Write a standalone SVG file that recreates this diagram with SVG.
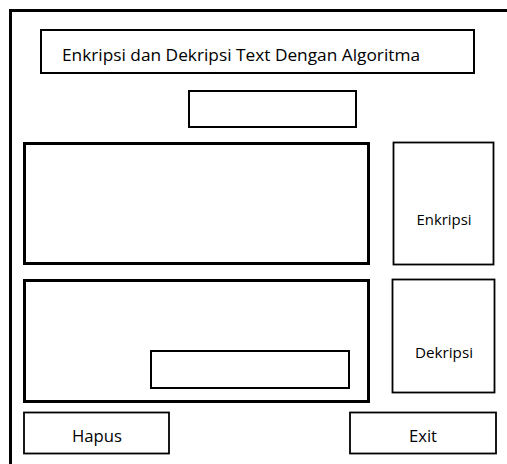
<svg xmlns="http://www.w3.org/2000/svg" width="507" height="464" viewBox="0 0 507 464">
  <style>
    .frame { fill: none; stroke: #000; stroke-width: 3; }
    .box { fill: #fff; stroke: #000; stroke-width: 2; }
    .panel { fill: #fff; stroke: #000; stroke-width: 3; }
    .btn { fill: #fff; stroke: #000; stroke-width: 1.8; }
    .lbl { font-family: "Open Sans", "Noto Sans", "Liberation Sans", sans-serif; fill: #000; text-anchor: middle; dominant-baseline: central; }
  </style>
  <rect width="507" height="464" fill="#fff"/>
  <!-- window frame (continues past the right and bottom edges) -->
  <rect id="window" class="frame" x="10.5" y="10.5" width="510" height="470"/>

  <g id="title">
    <rect class="box" x="41" y="30" width="433" height="43"/>
    <text class="lbl" x="241" y="54" font-size="16.5" textLength="358" lengthAdjust="spacingAndGlyphs">Enkripsi dan Dekripsi Text Dengan Algoritma</text>
  </g>
  <g id="key-field">
    <rect class="box" x="189" y="91" width="167" height="36"/>
  </g>
  <g id="plain-text">
    <rect class="panel" x="24.5" y="143.5" width="344" height="120"/>
  </g>
  <g id="btn-enkripsi">
    <rect class="btn" x="393.5" y="142.5" width="100" height="122"/>
    <text class="lbl" x="444" y="219" font-size="14" textLength="55" lengthAdjust="spacingAndGlyphs">Enkripsi</text>
  </g>
  <g id="cipher-text">
    <rect class="panel" x="24.5" y="280.5" width="344" height="121"/>
  </g>
  <g id="result-field">
    <rect class="box" x="151" y="351" width="198" height="37"/>
  </g>
  <g id="btn-dekripsi">
    <rect class="btn" x="392.5" y="279.5" width="102" height="113"/>
    <text class="lbl" x="444" y="352" font-size="14" textLength="58" lengthAdjust="spacingAndGlyphs">Dekripsi</text>
  </g>
  <g id="btn-hapus">
    <rect class="btn" x="24" y="412.5" width="145" height="41"/>
    <text class="lbl" x="97" y="436" font-size="16" textLength="50" lengthAdjust="spacingAndGlyphs">Hapus</text>
  </g>
  <g id="btn-exit">
    <rect class="btn" x="350" y="412.5" width="146" height="41"/>
    <text class="lbl" x="423" y="436" font-size="16" textLength="28" lengthAdjust="spacingAndGlyphs">Exit</text>
  </g>
  <g id="connectors"/>
</svg>
